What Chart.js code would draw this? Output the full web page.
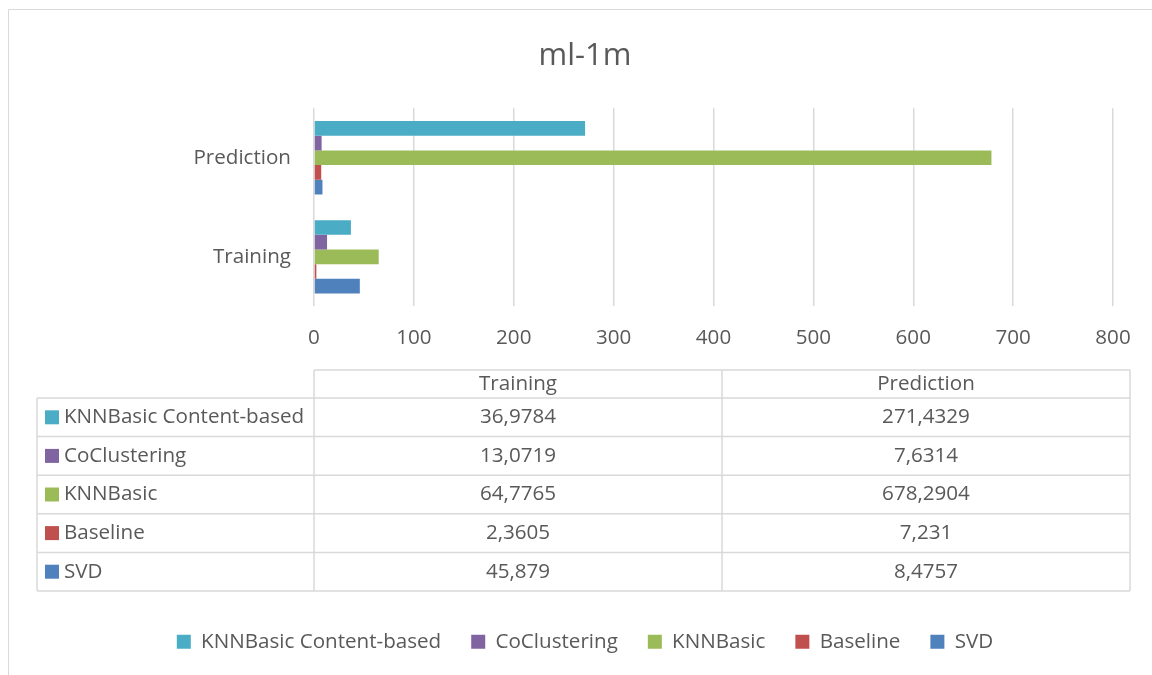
<!DOCTYPE html>
<html lang="en">
  <head>
    <meta charset="UTF-8" />
    <meta name="viewport" content="width=device-width, initial-scale=1.0" />
    <title>ml-1m</title>
    <script src="https://cdn.jsdelivr.net/npm/chart.js@4.5.0/dist/chart.umd.min.js"></script>
    <style>
      html, body { margin: 0; padding: 0; background: #ffffff; }
    </style>
  </head>
  <body>
    <canvas id="myChart" width="1152" height="675"></canvas>

    <script>
      // categories in table order (left to right)
      const categories = ["Training", "Prediction"];
      const seriesNames = ["KNNBasic Content-based", "CoClustering", "KNNBasic", "Baseline", "SVD"];
      const knnContent = [36.9784, 271.4329];
      const coClustering = [13.0719, 7.6314];
      const knnBasic = [64.7765, 678.2904];
      const baseline = [2.3605, 7.231];
      const svd = [45.879, 8.4757];
      const xTicks = [0, 100, 200, 300, 400, 500, 600, 700, 800];

      const allSeries = [knnContent, coClustering, knnBasic, baseline, svd];
      const colors = ["#4BACC6", "#8064A2", "#9BBB59", "#C0504D", "#4F81BD"];
      const textColor = "#595959";
      const lineColor = "#d9d9d9";
      const font = "'Open Sans', sans-serif";
      const fontSize = 20.6;

      const ctx = document.getElementById("myChart");

      // numbers are shown with a decimal comma
      function fmt(v) {
        return String(v).replace(".", ",");
      }

      // outer frame (left + top edge)
      const framePlugin = {
        id: "frame",
        beforeDraw(chart) {
          const c = chart.ctx;
          c.save();
          c.strokeStyle = lineColor;
          c.lineWidth = 1;
          c.beginPath();
          c.moveTo(8.5, chart.height);
          c.lineTo(8.5, 9.5);
          c.lineTo(chart.width, 9.5);
          c.stroke();
          c.restore();
        },
      };

      // data table under the value axis
      const tablePlugin = {
        id: "dataTable",
        afterDraw(chart) {
          const c = chart.ctx;
          const area = chart.chartArea;
          const left = area.left;
          const right = area.right + 17;
          const colW = (right - left) / categories.length;
          const labelLeft = 37;
          const headTop = 370;
          const headBottom = 398;
          const rowH = 38.6;
          const bottom = headBottom + rowH * seriesNames.length;

          c.save();
          c.strokeStyle = lineColor;
          c.lineWidth = 1.5;
          c.beginPath();
          // header
          c.moveTo(left, headTop);
          c.lineTo(right, headTop);
          // rows
          for (let i = 0; i <= seriesNames.length; i++) {
            const y = headBottom + i * rowH;
            c.moveTo(labelLeft, y);
            c.lineTo(right, y);
          }
          c.moveTo(labelLeft, headBottom);
          c.lineTo(labelLeft, bottom);
          for (let j = 0; j <= categories.length; j++) {
            const x = left + j * colW;
            c.moveTo(x, headTop);
            c.lineTo(x, bottom);
          }
          c.stroke();

          c.font = fontSize + "px " + font;
          c.fillStyle = textColor;
          c.textBaseline = "middle";
          c.textAlign = "center";
          categories.forEach((cat, j) => {
            c.fillText(cat, left + (j + 0.5) * colW, (headTop + headBottom) / 2);
          });

          seriesNames.forEach((name, i) => {
            const yMid = headBottom + (i + 0.5) * rowH;
            c.fillStyle = colors[i];
            c.fillRect(45, yMid - 7, 14, 14);
            c.fillStyle = textColor;
            c.textAlign = "left";
            c.fillText(name, 64, yMid);
            c.textAlign = "center";
            allSeries[i].forEach((v, j) => {
              c.fillText(fmt(v), left + (j + 0.5) * colW, yMid);
            });
          });
          c.restore();
        },
      };

      // bars are listed top to bottom, so the category order is flipped
      const datasets = seriesNames.map((name, i) => ({
        label: name,
        data: allSeries[i].slice().reverse(),
        backgroundColor: colors[i],
        borderWidth: 0,
        barPercentage: 1,
        categoryPercentage: 0.74,
      }));

      new Chart(ctx, {
        type: "bar",
        data: {
          labels: categories.slice().reverse(),
          datasets: datasets,
        },
        plugins: [framePlugin, tablePlugin],
        options: {
          indexAxis: "y",
          responsive: false,
          animation: false,
          devicePixelRatio: 1,
          layout: {
            padding: { left: 57, right: 39, top: 0, bottom: 13 },
          },
          scales: {
            x: {
              min: 0,
              max: 800,
              afterBuildTicks: (axis) => {
                axis.ticks = xTicks.map((v) => ({ value: v }));
              },
              afterFit: (axis) => {
                axis.height = 295;
              },
              border: { display: false },
              grid: { color: lineColor, lineWidth: 1.5, drawTicks: false },
              ticks: {
                color: textColor,
                font: { family: font, size: fontSize },
                padding: 19,
                maxRotation: 0,
              },
            },
            y: {
              afterFit: (axis) => {
                axis.width = 257;
              },
              border: { display: false },
              grid: { display: false, drawTicks: false },
              ticks: {
                color: textColor,
                font: { family: font, size: fontSize },
                padding: 23,
              },
            },
          },
          plugins: {
            title: {
              display: true,
              text: "ml-1m",
              color: textColor,
              font: { family: font, size: 31, weight: "normal" },
              padding: { top: 38, bottom: 33 },
            },
            legend: {
              position: "bottom",
              labels: {
                color: textColor,
                font: { family: font, size: fontSize },
                boxWidth: 14,
                boxHeight: 14,
                padding: 30,
              },
            },
            tooltip: { enabled: false },
          },
        },
      });
    </script>
  </body>
</html>
